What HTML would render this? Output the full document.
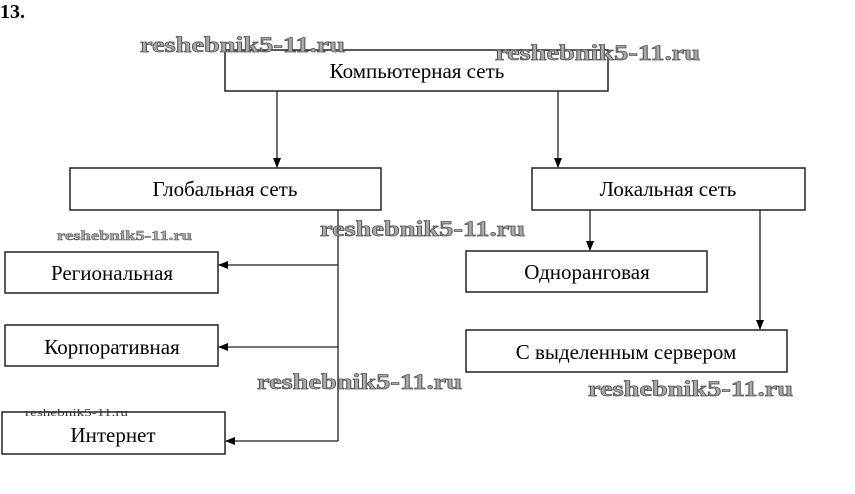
<!DOCTYPE html>
<html><head><meta charset="utf-8"><style>
body{margin:0;background:#fff;width:855px;height:489px;overflow:hidden}
</style></head><body>
<svg width="855" height="489" xmlns="http://www.w3.org/2000/svg" font-family="Liberation Serif, serif">
<defs><marker id="a" markerWidth="10" markerHeight="10" refX="9" refY="5" orient="auto" markerUnits="userSpaceOnUse"><path d="M0,1 L10,5 L0,9 Z" fill="#000"/></marker></defs>
<text x="0" y="18" font-size="20" font-weight="bold">13.</text>
<g fill="#fff" stroke="#222" stroke-width="1.5">
<rect x="225" y="50" width="383" height="41"/>
<rect x="70" y="168" width="311" height="42"/>
<rect x="532" y="168" width="273" height="42"/>
<rect x="5" y="252" width="213" height="41"/>
<rect x="5" y="325" width="213" height="41"/>
<rect x="2" y="412" width="223" height="42"/>
<rect x="466" y="251" width="241" height="41"/>
<rect x="466" y="330" width="321" height="42"/>
</g>
<g stroke="#222" stroke-width="1.3" fill="none">
<line x1="277" y1="91" x2="277" y2="167" marker-end="url(#a)"/>
<line x1="558" y1="91" x2="558" y2="167" marker-end="url(#a)"/>
<polyline points="338,210 338,441"/>
<line x1="338" y1="265" x2="219" y2="265" marker-end="url(#a)"/>
<line x1="338" y1="347" x2="219" y2="347" marker-end="url(#a)"/>
<line x1="338" y1="441" x2="226" y2="441" marker-end="url(#a)"/>
<line x1="590" y1="210" x2="590" y2="250" marker-end="url(#a)"/>
<line x1="760" y1="210" x2="760" y2="329" marker-end="url(#a)"/>
</g>
<g font-size="21" text-anchor="middle" fill="#000">
<text x="417" y="78">Компьютерная сеть</text>
<text x="225" y="196">Глобальная сеть</text>
<text x="668" y="196">Локальная сеть</text>
<text x="112" y="280">Региональная</text>
<text x="112" y="354">Корпоративная</text>
<text x="113" y="442">Интернет</text>
<text x="587" y="279">Одноранговая</text>
<text x="626" y="359">С выделенным сервером</text>
</g>
<g font-weight="bold" fill="#aaa" stroke="#555" stroke-width="0.8" font-size="22" lengthAdjust="spacingAndGlyphs">
<text x="140" y="52" textLength="205" lengthAdjust="spacingAndGlyphs">reshebnik5-11.ru</text>
<text x="495" y="60" textLength="205" lengthAdjust="spacingAndGlyphs">reshebnik5-11.ru</text>
<text x="320" y="236" textLength="205" lengthAdjust="spacingAndGlyphs">reshebnik5-11.ru</text>
<text x="257" y="389" textLength="205" lengthAdjust="spacingAndGlyphs">reshebnik5-11.ru</text>
<text x="588" y="396" textLength="205" lengthAdjust="spacingAndGlyphs">reshebnik5-11.ru</text>
<text x="57" y="240" font-size="14" stroke-width="0.5" textLength="135" lengthAdjust="spacingAndGlyphs">reshebnik5-11.ru</text>
</g>
<text x="25" y="416" font-size="11" fill="#333" textLength="103" lengthAdjust="spacingAndGlyphs">reshebnik5-11.ru</text>
</svg>
</body></html>
